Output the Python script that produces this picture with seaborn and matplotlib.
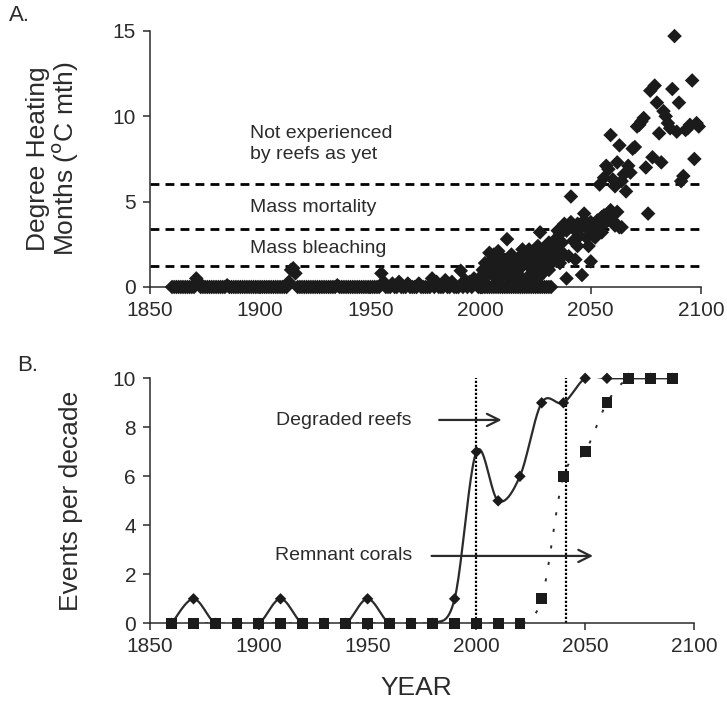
import numpy as np
import pandas as pd
import matplotlib
matplotlib.use("Agg")
import matplotlib.pyplot as plt
import seaborn as sns

# ---------------- panel A : degree heating months ----------------
hist_years = list(range(1860, 2033))
hist_dhm = [
    0, 0, 0, 0, 0, 0, 0, 0, 0, 0,            # 1860s
    0, 0.5, 0.3, 0, 0, 0, 0, 0, 0, 0,        # 1870s
    0, 0, 0, 0, 0, 0.1, 0, 0, 0, 0,          # 1880s
    0, 0, 0, 0, 0, 0, 0, 0, 0, 0,            # 1890s
    0, 0, 0, 0, 0, 0, 0, 0, 0, 0,            # 1900s
    0, 0, 0, 0.3, 1.0, 1.1, 0.8, 0, 0, 0,    # 1910s
    0, 0, 0, 0, 0, 0, 0, 0, 0, 0,            # 1920s
    0, 0, 0, 0, 0, 0.1, 0, 0, 0, 0,          # 1930s
    0, 0, 0, 0, 0, 0, 0, 0, 0, 0,            # 1940s
    0, 0, 0, 0, 0, 0.8, 0.3, 0, 0, 0,        # 1950s
    0.2, 0, 0, 0.3, 0, 0, 0, 0.2, 0, 0,      # 1960s
    0, 0, 0.2, 0, 0, 0, 0, 0, 0.5, 0,        # 1970s
    0.3, 0, 0, 0, 0.4, 0, 0, 0.3, 0, 0,      # 1980s
    0, 0.95, 0, 0.4, 0, 0.3, 0, 0.5, 0.2, 0, # 1990s
    0, 0, 0, 0, 0, 0, 0, 0, 0, 0,            # 2000s
    0, 0, 0, 0, 0, 0, 0, 0, 0, 0,            # 2010s
    0, 0, 0, 0, 0, 0, 0, 0, 0, 0,            # 2020s
    0, 0, 0,                                 # 2030-2032
]

proj_years = list(range(2000, 2100))
proj_dhm = [
    0.6, 1.0, 1.4, 0.7, 2.0, 0.9, 1.7, 0.5, 2.1, 1.3,
    0.7, 1.6, 2.8, 0.9, 0.4, 1.2, 0.6, 0.2, 1.1, 0.5,
    2.0, 0.3, 1.2, 0.8, 0.2, 1.0, 0.5, 3.2, 1.2, 0.9,
    1.4, 1.0, 2.3, 1.5, 1.9, 2.2, 1.4, 2.6, 1.9, 0.5,
    1.8, 5.3, 2.7, 1.6, 2.4, 3.0, 0.7, 4.3, 2.9, 2.4,
    1.5, 3.0, 2.9, 3.1, 6.0, 3.2, 6.4, 7.1, 6.9, 8.9,
    6.3, 5.9, 7.3, 8.3, 6.2, 6.6, 5.6, 7.1, 6.7, 8.1,
    8.2, 9.4, 9.5, 9.7, 9.9, 7.0, 4.3, 11.5, 7.6, 11.8,
    10.8, 9.0, 7.3, 10.3, 10.0, 9.6, 9.3, 11.6, 14.7, 9.1,
    10.8, 6.2, 6.5, 9.2, 9.3, 9.5, 12.1, 7.5, 9.6, 9.4,
]

band_years = list(range(2000, 2065))
band_dhm = [
    0.0, 0.3, 0.6, 0.9, 1.2, 1.5, 1.9, 1.3, 1.0, 1.8,
    1.5, 1.1, 0.8, 1.2, 1.9, 1.5, 1.0, 1.4, 1.8, 2.2,
    1.6, 2.0, 2.2, 1.9, 1.5, 1.8, 2.4, 2.1, 1.6, 2.3,
    1.9, 2.6, 2.2, 1.7, 2.8, 3.3, 3.1, 3.4, 3.7, 3.3,
    3.5, 3.8, 3.6, 3.3, 3.7, 3.4, 3.6, 3.9, 3.5, 3.4,
    3.8, 3.4, 3.6, 3.9, 3.5, 4.1, 4.2, 3.8, 4.3, 4.5,
    3.9, 3.6, 4.4, 3.5, 3.5,
]

threshold_levels = [1.25, 3.4, 6.05]

# ---------------- panel B : events per decade ----------------
decades = list(range(1860, 2100, 10))
degraded_events = [0, 1, 0, 0, 0, 1, 0, 0, 0, 1, 0, 0, 0, 1,
                   7, 5, 6, 9, 9, 10, 10, 10, 10, 10]
remnant_events = [0, 0, 0, 0, 0, 0, 0, 0, 0, 0, 0, 0, 0, 0,
                  0, 0, 0, 1, 6, 7, 9, 10, 10, 10]
event_marks = [2000, 2041]


def smooth(xs, ys, steps=24):
    # bezier smoothing of a line through the points (spreadsheet style)
    p = np.column_stack([xs, ys]).astype(float)
    p = np.vstack([p[0], p, p[-1]])
    t = np.linspace(0, 1, steps)[:, None]
    parts = []
    for i in range(1, len(p) - 2):
        p0, p1, p2, p3 = p[i - 1], p[i], p[i + 1], p[i + 2]
        c1 = p1 + (p2 - p0) / 6
        c2 = p2 - (p3 - p1) / 6
        parts.append((1 - t) ** 3 * p1 + 3 * (1 - t) ** 2 * t * c1
                     + 3 * (1 - t) * t ** 2 * c2 + t ** 3 * p2)
    curve = np.vstack(parts)
    return curve[:, 0], curve[:, 1]


sns.set_style("ticks")
plt.rcParams["font.family"] = ["Liberation Sans", "DejaVu Sans"]

ink = "#1b1b1b"
grey = "#2b2b2b"

fig = plt.figure(figsize=(7.27, 7.02), dpi=100)
ax1 = fig.add_axes([0.2063, 0.5912, 0.7579, 0.3647])
ax2 = fig.add_axes([0.2063, 0.1121, 0.7483, 0.3490])

# ---- A ----
dhm = pd.DataFrame({
    "year": hist_years + band_years + proj_years,
    "dhm": hist_dhm + band_dhm + proj_dhm,
})
for lev in threshold_levels:
    ax1.axhline(lev, color="black", lw=2.0, dashes=(3.2, 2.2), zorder=1)
sns.scatterplot(data=dhm, x="year", y="dhm", marker="D", s=55, color=ink,
                edgecolor="none", linewidth=0, clip_on=False, zorder=3,
                ax=ax1)
ax1.set_xlim(1850, 2100)
ax1.set_ylim(0, 15)
ax1.set_xticks(range(1850, 2101, 50))
ax1.set_yticks([0, 5, 10, 15])
ax1.set_xlabel("")
ax1.set_ylabel("Degree Heating\nMonths ($^{\\rm o}$C mth)", fontsize=19,
               color=grey, linespacing=1.0)
ax1.yaxis.set_label_coords(-0.127, 0.5)
ax1.text(1895.5, 8.37, "Not experienced\nby reefs as yet", fontsize=14,
         color=grey, va="center", ha="left", linespacing=1.3)
ax1.text(1895.5, 4.63, "Mass mortality", fontsize=14, color=grey,
         va="center", ha="left")
ax1.text(1895.5, 2.28, "Mass bleaching", fontsize=14, color=grey,
         va="center", ha="left")

# ---- B ----
for xm in event_marks:
    ax2.plot([xm, xm], [0, 10], color="black", lw=1.6, dashes=(1, 0.8),
             zorder=2)
dx, dy = smooth(decades, degraded_events)
sns.lineplot(x=dx, y=dy, sort=False, estimator=None, color=grey, lw=1.6,
             ax=ax2, zorder=3)
rx, ry = smooth(decades, remnant_events)
ax2.plot(rx, ry, color=grey, lw=1.4, dashes=(1.6, 7), zorder=3)
sns.scatterplot(x=decades, y=degraded_events, marker="D", s=34, color=ink,
                edgecolor="none", linewidth=0, clip_on=False, zorder=4,
                ax=ax2)
sns.scatterplot(x=decades, y=remnant_events, marker="s", s=60, color=ink,
                edgecolor="none", linewidth=0, clip_on=False, zorder=5,
                ax=ax2)
ax2.set_xlim(1850, 2100)
ax2.set_ylim(0, 10)
ax2.set_xticks(range(1850, 2101, 50))
ax2.set_yticks(range(0, 11, 2))
ax2.set_ylabel("Events per decade", fontsize=19, color=grey)
ax2.yaxis.set_label_coords(-0.123, 0.5)
ax2.set_xlabel("YEAR", fontsize=19, color=grey)
ax2.xaxis.set_label_coords(0.49, -0.215)

ax2.text(1908, 8.27, "Degraded reefs", fontsize=14, color=grey,
         va="center", ha="left")
ax2.annotate("", xy=(2011.6, 8.3), xytext=(1982.9, 8.3),
             arrowprops=dict(arrowstyle="->", lw=1.6, color=grey,
                             mutation_scale=22, shrinkA=0, shrinkB=0))
ax2.text(1907.4, 2.75, "Remnant corals", fontsize=14, color=grey,
         va="center", ha="left")
ax2.annotate("", xy=(2053.6, 2.75), xytext=(1979.4, 2.75),
             arrowprops=dict(arrowstyle="->", lw=1.6, color=grey,
                             mutation_scale=22, shrinkA=0, shrinkB=0))

for ax in (ax1, ax2):
    sns.despine(ax=ax)
    for side in ("left", "bottom"):
        ax.spines[side].set_linewidth(1.1)
        ax.spines[side].set_color(grey)
    ax.tick_params(direction="out", length=5, width=1.1, color=grey,
                   labelsize=15, labelcolor=grey, pad=5)

fig.text(0.012, 0.978, "A.", fontsize=16, color=grey, va="center")
fig.text(0.024, 0.480, "B.", fontsize=16, color=grey, va="center")

fig.savefig("out.png", dpi=100)
